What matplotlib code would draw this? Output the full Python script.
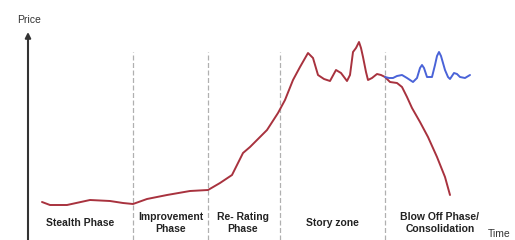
import matplotlib
matplotlib.use("Agg")
import matplotlib.pyplot as plt

plt.rcParams['font.family'] = ['Liberation Sans', 'DejaVu Sans']

# data: time vs price (arbitrary units)
time_main = [42, 50, 67, 90, 110, 123, 133, 147, 167, 190, 208, 220, 232, 243, 250, 258,
             267, 278, 285, 293, 300, 308, 313, 318, 324, 330, 336, 341, 347, 350, 353,
             356, 359, 361, 363, 366, 368, 372, 377, 381, 385, 390, 397, 402, 407, 412,
             420, 428, 437, 445, 450]
price_main = [38, 35, 35, 40, 39, 37, 36, 41, 45, 49, 50, 57, 65, 87, 93, 101,
              110, 127, 140, 160, 173, 187, 182, 165, 161, 159, 170, 167, 159, 165, 188,
              192, 198, 192, 183, 168, 160, 162, 166, 165, 163, 158, 157, 153, 143, 132,
              118, 103, 83, 63, 45]

time_alt = [385, 389, 393, 397, 402, 407, 413, 417, 420, 422, 424, 427, 432, 435, 437,
            439, 441, 445, 448, 450, 454, 457, 460, 465, 470]
price_alt = [163, 162, 162, 164, 165, 162, 158, 162, 172, 175, 172, 163, 163, 175, 184,
             188, 184, 170, 163, 161, 167, 166, 163, 162, 165]

phase_bounds = [133, 208, 280, 385]
phase_labels = ["Stealth Phase", "Improvement\nPhase", "Re- Rating\nPhase",
                "Story zone", "Blow Off Phase/\nConsolidation"]
phase_centers = [80, 171, 243, 332, 440]

fig = plt.figure(figsize=(5.15, 2.4), dpi=100)
ax = fig.add_axes([0, 0, 1, 1])
ax.set_xlim(0, 515)
ax.set_ylim(0, 240)
ax.axis("off")

# phase separators
for b in phase_bounds:
    ax.plot([b, b], [0, 188], color="#b0b0b0", lw=0.9, ls=(0, (4, 2)))

# price axis arrow
ax.annotate("", xy=(28, 208), xytext=(28, 0),
            arrowprops=dict(arrowstyle="-|>", color="#333333", lw=1.5,
                            mutation_scale=8, shrinkA=0, shrinkB=0))
ax.text(29, 220, "Price", ha="center", va="center", fontsize=7.5, color="#333333")
ax.text(499, 6, "Time", ha="center", va="center", fontsize=7.5, color="#333333")

ax.plot(time_main, price_main, color="#a8323e", lw=1.4, solid_capstyle="round",
        solid_joinstyle="round")
ax.plot(time_alt, price_alt, color="#4a63d8", lw=1.4, solid_capstyle="round",
        solid_joinstyle="round")

for c, lab in zip(phase_centers, phase_labels):
    ax.text(c, 17, lab, ha="center", va="center", fontsize=7.5, fontweight="bold",
            color="#222222", linespacing=1.3)

fig.savefig("out.png", dpi=100)
